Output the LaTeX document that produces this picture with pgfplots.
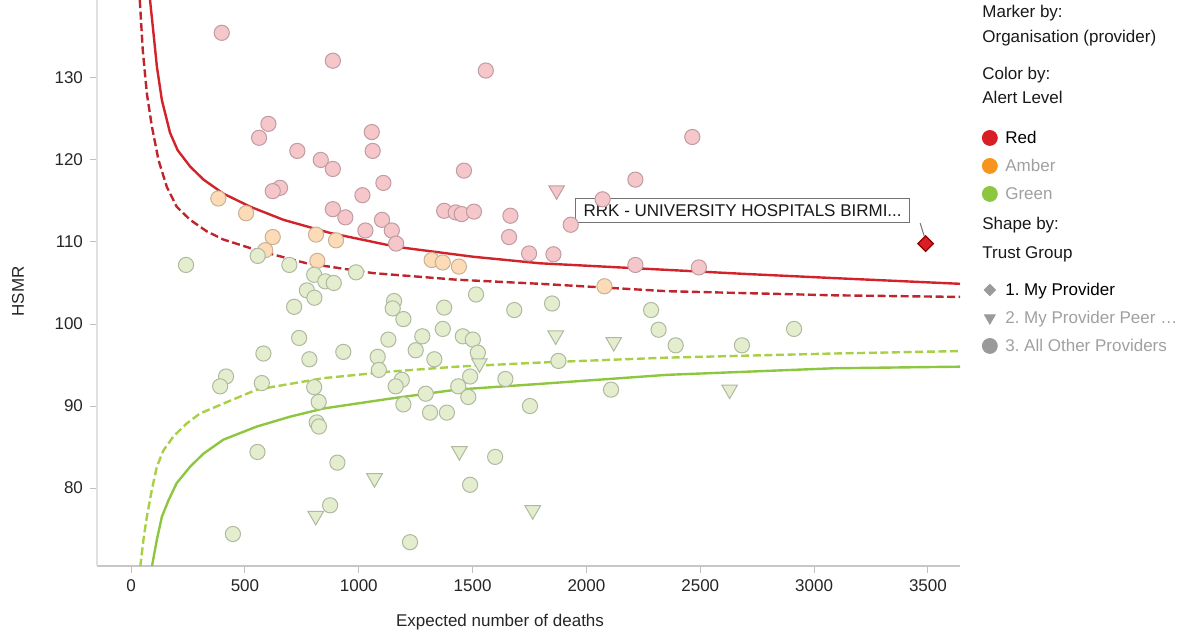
\documentclass[border=0pt]{standalone}
\usepackage{pgfplots}
\pgfplotsset{compat=1.18}
\usepackage{fontspec}
\setmainfont{Liberation Sans}
\frenchspacing
\newcommand{\fsz}{\fontsize{8.5pt}{10.2pt}\selectfont}
\newcommand{\ls}{\rule{0pt}{10pt}}
\definecolor{pinkF}{HTML}{F5C6CA}
\definecolor{pinkD}{HTML}{C09CA1}
\definecolor{ambF}{HTML}{FCDBB6}
\definecolor{ambD}{HTML}{C8B196}
\definecolor{grnF}{HTML}{E4EECF}
\definecolor{grnD}{HTML}{AFB99F}
\definecolor{redL}{HTML}{D2232A}
\definecolor{redD}{HTML}{BF252C}
\definecolor{grnL}{HTML}{8DC63F}
\definecolor{grnDL}{HTML}{A8CF45}
\definecolor{legRed}{HTML}{D81F26}
\definecolor{legAmb}{HTML}{F7941D}
\definecolor{legGrn}{HTML}{8DC63F}
\definecolor{legGray}{HTML}{9A9A9A}
\definecolor{txtGray}{HTML}{A0A0A0}
\pgfplotsset{legdot/.style={legend image code/.code={\draw[##1] plot coordinates {(0pt,0pt)};}}}
\begin{document}
\begin{tikzpicture}[x=1pt,y=1pt]
\useasboundingbox (-48.5,-34.5) rectangle (544,283);
\begin{axis}[
  at={(0,0)}, anchor=south west, scale only axis,
  width=431.5pt, height=283pt,
  xmin=-150, xmax=3641, ymin=70.5, ymax=139.5,
  axis x line*=bottom, axis y line*=left,
  x axis line style={draw=black!22, line width=0.6pt},
  y axis line style={draw=black!12, line width=0.6pt},
  xtick={0,500,...,3500}, ytick={80,90,...,130},
  tick align=outside, major tick length=3.5pt,
  tick style={draw=black!25, line width=0.5pt},
  /pgf/number format/1000 sep={},
  /pgf/number format/assume math mode=true,
  ticklabel style={font=\fsz, text=black!85},
  xlabel={Expected number of deaths}, ylabel={HSMR},
  xlabel style={at={(axis description cs:0.467,-0.099)}, anchor=center, font=\fsz, text=black!85},
  ylabel style={at={(axis description cs:-0.0915,0.485)}, anchor=center, font=\fsz, text=black!85},
  clip=true,
  legend cell align=left,
  legend style={at={(axis description cs:1.0259,0.781)}, anchor=north west,
    draw=none, fill=none, inner sep=0pt, outer sep=0pt, row sep=0pt, column sep=4pt,
    font=\fsz, nodes={inner sep=0pt, outer sep=0pt, text depth=4pt}},
]
% ---- pink (red alert) circles
\addplot[forget plot, only marks, mark=*, mark size=3.8pt,
  mark options={fill=pinkF, draw=pinkD, line width=0.5pt}] coordinates {
(398,135.5) (886,132.1) (1558,130.9) (603,124.4) (562,122.7) (1057,123.4)
(1061,121.1) (730,121.1) (833,120.0) (886,118.9) (1462,118.7) (1108,117.2)
(1016,115.7) (654,116.6) (622,116.2) (886,114.0) (941,113.0) (1102,112.7)
(1145,111.4) (1029,111.4) (1164,109.8) (1375,113.8) (1426,113.6) (1452,113.4)
(1506,113.7) (1666,113.2) (1660,110.6) (1748,108.6) (2465,122.8) (2215,117.6)
(2071,115.2) (1931,112.1) (1855,108.5) (2215,107.2) (2494,106.9)
};
\addplot[forget plot, only marks, mark=triangle*, mark size=4.5pt,
  mark options={rotate=180, fill=pinkF, draw=pinkD, line width=0.5pt}] coordinates {
(1869,116.3)
};
% ---- amber circles
\addplot[forget plot, only marks, mark=*, mark size=3.8pt,
  mark options={fill=ambF, draw=ambD, line width=0.5pt}] coordinates {
(383,115.3) (505,113.5) (622,110.6) (812,110.9) (900,110.2) (589,109.0)
(818,107.7) (1320,107.8) (1369,107.5) (1440,107.0) (2079,104.6)
};
% ---- green circles
\addplot[forget plot, only marks, mark=*, mark size=3.8pt,
  mark options={fill=grnF, draw=grnD, line width=0.5pt}] coordinates {
(241,107.2) (556,108.3) (695,107.2) (988,106.3) (804,106.0) (853,105.2)
(890,105.0) (772,104.1) (805,103.2) (716,102.1) (1155,102.8) (1149,101.9)
(1196,100.6) (1375,102.0) (1515,103.6) (1683,101.7) (738,98.3) (581,96.4)
(783,95.7) (932,96.6) (1130,98.1) (1083,96.0) (1088,94.4) (1279,98.5)
(1250,96.8) (1369,99.4) (1332,95.7) (1457,98.5) (1501,98.1) (1523,96.5)
(1489,93.6) (1437,92.4) (1481,91.1) (1644,93.3) (1752,90.0) (1189,93.2)
(1162,92.4) (1196,90.2) (1294,91.5) (1313,89.2) (1387,89.2) (417,93.6)
(391,92.4) (574,92.8) (804,92.3) (824,90.5) (815,88.0) (825,87.5)
(555,84.4) (906,83.1) (1599,83.8) (1489,80.4) (874,77.9) (447,74.4)
(1225,73.4) (1849,102.5) (2284,101.7) (2317,99.3) (2392,97.4) (2683,97.4)
(2912,99.4) (1877,95.5) (2108,92.0)
};
\addplot[forget plot, only marks, mark=triangle*, mark size=4.5pt,
  mark options={rotate=180, fill=grnF, draw=grnD, line width=0.5pt}] coordinates {
(1530,95.2) (1069,81.2) (1442,84.5) (811,76.6) (1764,77.3) (1865,98.6)
(2120,97.8) (2629,92.0)
};
% ---- control limits
\addplot[forget plot, redL, line width=1.2pt] coordinates {
(83,139.5) (98,135.5) (113,131.4) (135,127.3) (171,123.3) (204,121.2)
(259,119.2) (318,117.6) (405,115.9) (523,114.3) (669,112.7) (874,111.1)
(1167,109.4) (1502,108.2) (1796,107.4) (2353,106.6) (2700,106.1)
(3084,105.6) (3641,104.9)
};
\addplot[forget plot, redD, line width=1.2pt, dash pattern=on 4pt off 1.8pt] coordinates {
(38,139.5) (51,133.4) (69,128.1) (91,124.1) (120,120.0) (157,116.7)
(200,114.3) (259,112.7) (332,111.3) (405,110.3) (552,109.0) (771,107.4)
(1064,106.2) (1430,105.4) (1796,104.9) (2353,104.0) (3084,103.5) (3641,103.3)
};
\addplot[forget plot, grnL, line width=1.2pt] coordinates {
(91,70.4) (113,73.7) (135,76.5) (164,78.5) (200,80.6) (259,82.6)
(318,84.2) (405,85.9) (552,87.5) (698,88.7) (845,89.7) (1137,90.9)
(1430,92.0) (1796,92.7) (2353,93.8) (3084,94.6) (3641,94.8)
};
\addplot[forget plot, grnDL, line width=1.2pt, dash pattern=on 4pt off 1.8pt] coordinates {
(40,70.4) (54,73.7) (69,76.5) (91,79.8) (113,82.6) (142,84.6) (186,86.3)
(245,87.9) (303,89.1) (405,90.3) (552,92.0) (845,93.4) (1137,94.2)
(1430,94.8) (1796,95.3) (2353,95.9) (3084,96.4) (3641,96.7)
};
% ---- my provider
\addplot[forget plot, only marks, mark=square*, mark size=2.75pt,
  mark options={rotate=45, fill=legRed, draw=black!45!red, line width=0.6pt}] coordinates {
(3490,109.8)
};
% ---- annotation
\draw[black!55, line width=0.5pt] (axis cs:3466,112.3) -- (axis cs:3484,110.7);
\node[draw=black!55, line width=0.6pt, fill=white, anchor=west, inner xsep=4pt,
  inner ysep=0pt, minimum height=12pt, font=\fsz, text=black!90]
  at (axis cs:1950,113.8) {RRK - UNIVERSITY HOSPITALS BIRMI...};
% ---- legend
\addlegendimage{legdot, mark=*, mark size=3.75pt, mark options={fill=legRed, draw=legRed}}
\addlegendentry{\ls Red}
\addlegendimage{legdot, mark=*, mark size=3.75pt, mark options={fill=legAmb, draw=legAmb}}
\addlegendentry{\ls\textcolor{txtGray}{Amber}}
\addlegendimage{legdot, mark=*, mark size=3.75pt, mark options={fill=legGrn, draw=legGrn}}
\addlegendentry{\ls\textcolor{txtGray}{Green}}
\addlegendimage{empty legend}
\addlegendentry{\rule{0pt}{30pt}}
\addlegendimage{legdot, mark=square*, mark size=2pt, mark options={rotate=45, fill=legGray, draw=legGray}}
\addlegendentry{\ls 1. My Provider}
\addlegendimage{legdot, mark=triangle*, mark size=3.1pt, mark options={rotate=180, fill=legGray, draw=legGray}}
\addlegendentry{\ls\textcolor{txtGray}{2. My Provider Peer \dots}}
\addlegendimage{legdot, mark=*, mark size=3.75pt, mark options={fill=legGray, draw=legGray}}
\addlegendentry{\ls\textcolor{txtGray}{3. All Other Providers}}
\end{axis}
\begin{scope}[every node/.style={anchor=base west, inner sep=0pt, font=\fsz, text=black!90}]
\node at (442.5,274.3) {Marker by:};
\node at (442.5,261.7) {Organisation (provider)};
\node at (442.5,243.3) {Color by:};
\node at (442.5,231.0) {Alert Level};
\node at (442.5,168.0) {Shape by:};
\node at (442.5,153.8) {Trust Group};
\end{scope}
\end{tikzpicture}
\end{document}
